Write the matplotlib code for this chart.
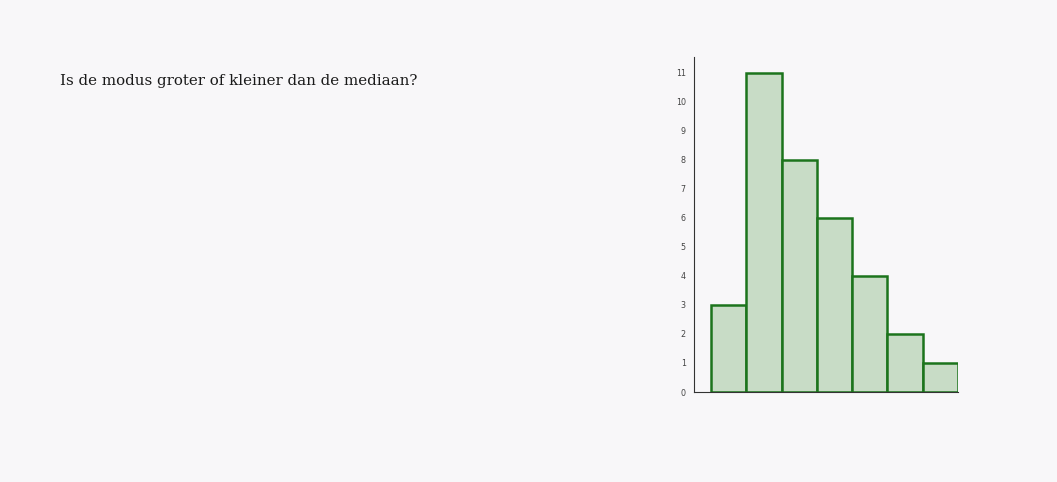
import matplotlib
matplotlib.use("Agg")
import matplotlib.pyplot as plt

# histogram counts per class
counts = [3, 11, 8, 6, 4, 2, 1]
yticks = list(range(0, 12))
question = "Is de modus groter of kleiner dan de mediaan?"

bg = "#f8f7f9"
fig = plt.figure(figsize=(10.57, 4.82), dpi=100, facecolor=bg)

fig.text(60 / 1057, 1 - 85 / 482, question, fontsize=10.8, family="DejaVu Serif",
         color="#1a1a1a", va="baseline", ha="left")

ax = fig.add_axes([694 / 1057, 90 / 482, 264 / 1057, 335 / 482])
ax.set_facecolor(bg)
x = list(range(len(counts)))
ax.bar(x, counts, width=1.0, color="#c8dcc6", edgecolor="#1c741c", linewidth=1.8)

ax.set_xlim(-0.5 - 17 / 35.3, len(counts) - 0.5)
ax.set_ylim(0, 11.55)
ax.set_yticks(yticks)
ax.set_yticklabels([str(t) for t in yticks])
ax.set_xticks([])
ax.tick_params(axis="y", length=0, pad=6, labelsize=5.8, labelcolor="#444444")
for s in ["top", "right"]:
    ax.spines[s].set_visible(False)
ax.spines["left"].set_color("#333333")
ax.spines["bottom"].set_color("#333333")
ax.spines["left"].set_linewidth(0.8)
ax.spines["bottom"].set_linewidth(0.8)

fig.savefig("out.png", dpi=100, facecolor=bg)
